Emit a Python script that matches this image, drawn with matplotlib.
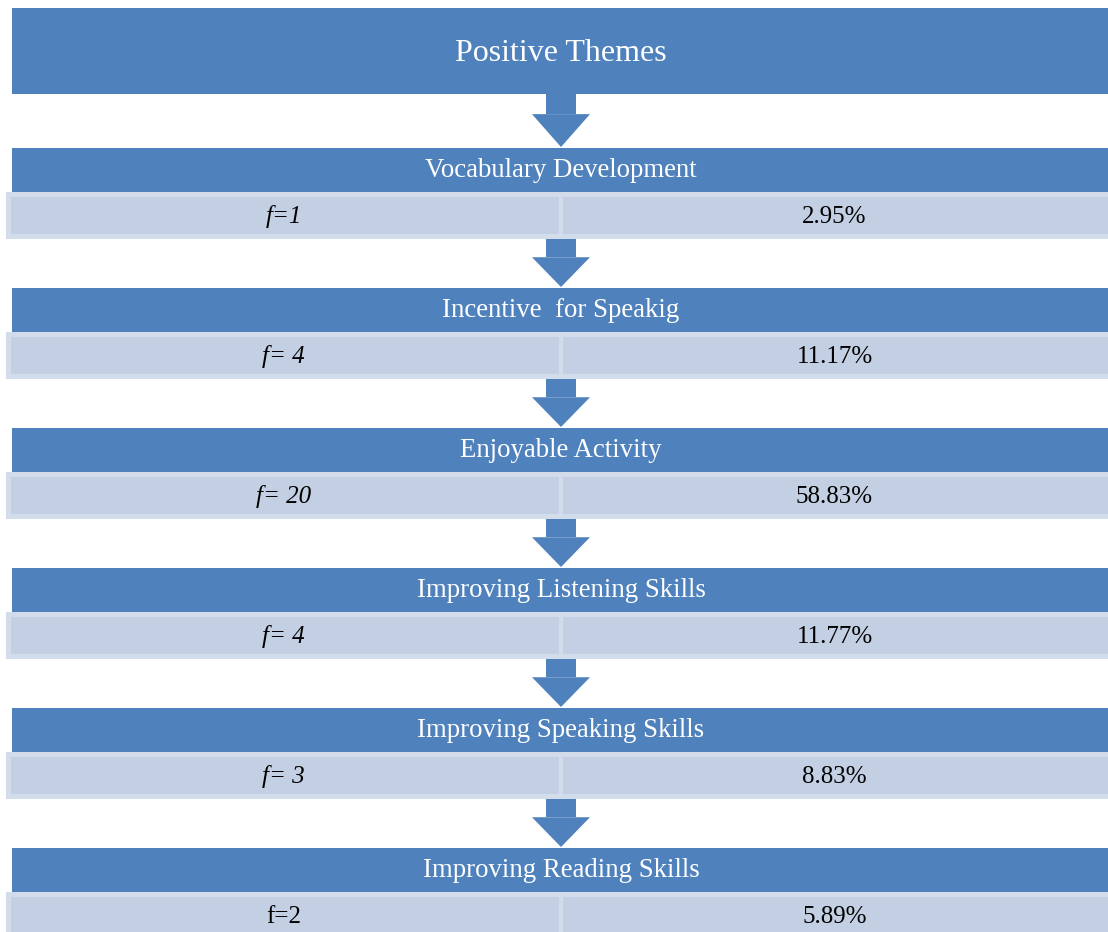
import matplotlib.pyplot as plt
from matplotlib.patches import Rectangle, Polygon

# Data
title = "Positive Themes"
themes = ["Vocabulary Development", "Incentive  for Speakig", "Enjoyable Activity",
          "Improving Listening Skills", "Improving Speaking Skills", "Improving Reading Skills"]
freq_labels = ["f=1", "f= 4", "f= 20", "f= 4", "f= 3", "f=2"]
freq_italic = [True, True, True, True, True, False]
percents = ["2.95%", "11.17%", "58.83%", "11.77%", "8.83%", "5.89%"]

dark = "#4F81BD"
light = "#C3D0E3"
edge = "#D3DCEB"
W, H = 1108, 932

plt.rcParams['font.family'] = ['Liberation Serif', 'DejaVu Serif']

fig = plt.figure(figsize=(W / 100, H / 100), dpi=100)
ax = fig.add_axes([0, 0, 1, 1])
ax.set_xlim(0, W)
ax.set_ylim(H, 0)
ax.axis('off')

cx = 561


def arrow(y0, y1):
    # shaft + head pointing down
    hy = y0 + (y1 - y0) * 0.38
    ax.add_patch(Rectangle((cx - 15, y0), 30, hy - y0, color=dark, lw=0))
    ax.add_patch(Polygon([(cx - 29, hy), (cx + 29, hy), (cx, y1)], closed=True, color=dark, lw=0))


# title box
ax.add_patch(Rectangle((12, 8), W - 12, 86, color=dark, lw=0))
ax.text(cx, 61, title, color="white", fontsize=23, ha="center", va="baseline")

step = 140
for i, theme in enumerate(themes):
    top = 148 + i * step
    # arrow from previous box
    prev_bottom = 94 if i == 0 else top - step + 91
    arrow(prev_bottom, top - 1)
    # header bar
    ax.add_patch(Rectangle((12, top), W - 12, 44, color=dark, lw=0))
    ax.text(cx, top + 29, theme, color="white", fontsize=19.3, ha="center", va="baseline")
    # value row
    ry = top + 44
    ax.add_patch(Rectangle((6, ry), W - 6, 47, color=edge, lw=0))
    ax.add_patch(Rectangle((11, ry + 5), W - 11, 37, color=light, lw=0))
    ax.add_patch(Rectangle((cx - 2, ry), 4, 47, color=edge, lw=0))
    ax.text((6 + cx) / 2, ry + 31, freq_labels[i], fontsize=18, ha="center", va="baseline",
            style="italic" if freq_italic[i] else "normal")
    ax.text((cx + W) / 2, ry + 31, percents[i], fontsize=18, ha="center", va="baseline")

fig.savefig("out.png", dpi=100)
